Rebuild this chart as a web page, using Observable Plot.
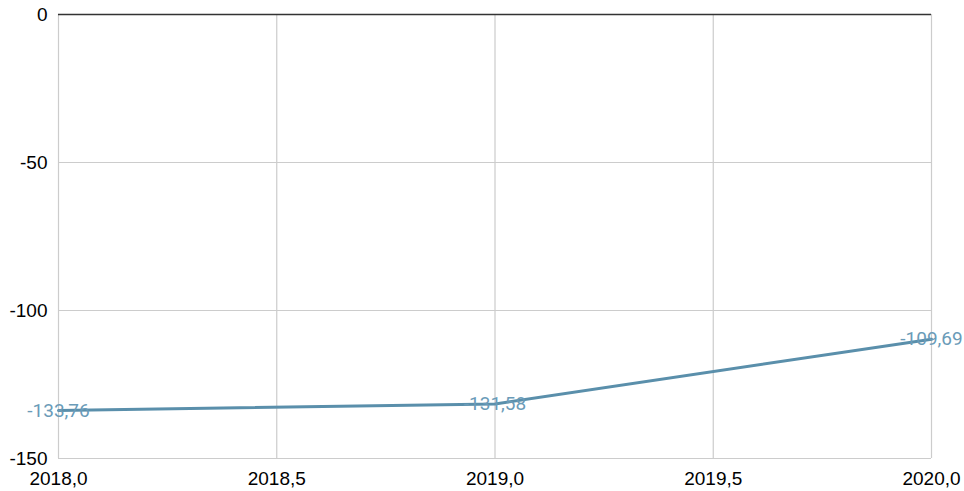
<!DOCTYPE html>
<html><head><meta charset="utf-8">
<script src="https://cdn.jsdelivr.net/npm/d3@7"></script>
<script src="https://cdn.jsdelivr.net/npm/@observablehq/plot@0.6"></script>
<style>body{margin:0;background:#fff;font-family:"Liberation Sans",Arial,sans-serif}</style>
</head><body><div id="chart"></div>
<script>
const years = [2018, 2019, 2020];
const values = [-133.76, -131.58, -109.69];
const xTicks = [2018, 2018.5, 2019, 2019.5, 2020];
const yTicks = [0, -50, -100, -150];

const loc = d3.formatLocale({decimal: ",", thousands: ".", grouping: [3], currency: ["", " €"], minus: "-"});
const f1 = loc.format(".1f");
const f2 = loc.format(".2f");
const f0 = loc.format("d");
const data = years.map((y, i) => ({year: y, value: values[i]}));

const chart = Plot.plot({
  width: 964, height: 491,
  marginLeft: 58, marginRight: 33, marginTop: 14, marginBottom: 33,
  style: {fontFamily: "'Liberation Sans', Arial, sans-serif", fontSize: "19px", color: "#000", background: "#fff"},
  x: {domain: [2018, 2020], ticks: xTicks, tickFormat: f1, tickSize: 0, tickPadding: 13, label: null},
  y: {domain: [-150, 0], ticks: yTicks, tickFormat: f0, tickSize: 0, tickPadding: 11, label: null},
  marks: [
    Plot.gridX(xTicks, {stroke: "#cccccc", strokeOpacity: 1, strokeWidth: 1.2}),
    Plot.gridY(yTicks, {stroke: "#cccccc", strokeOpacity: 1, strokeWidth: 1.2}),
    Plot.ruleY([0], {stroke: "#333", strokeWidth: 1.5}),
    Plot.line(data, {x: "year", y: "value", stroke: "#5a8fab", strokeWidth: 3}),
    Plot.text(data, {x: "year", y: "value", text: d => f2(d.value), fill: "#6a9bb8", fontSize: 19, fontFamily: "Roboto, sans-serif"})
  ]
});
document.getElementById("chart").appendChild(chart);
</script></body></html>
